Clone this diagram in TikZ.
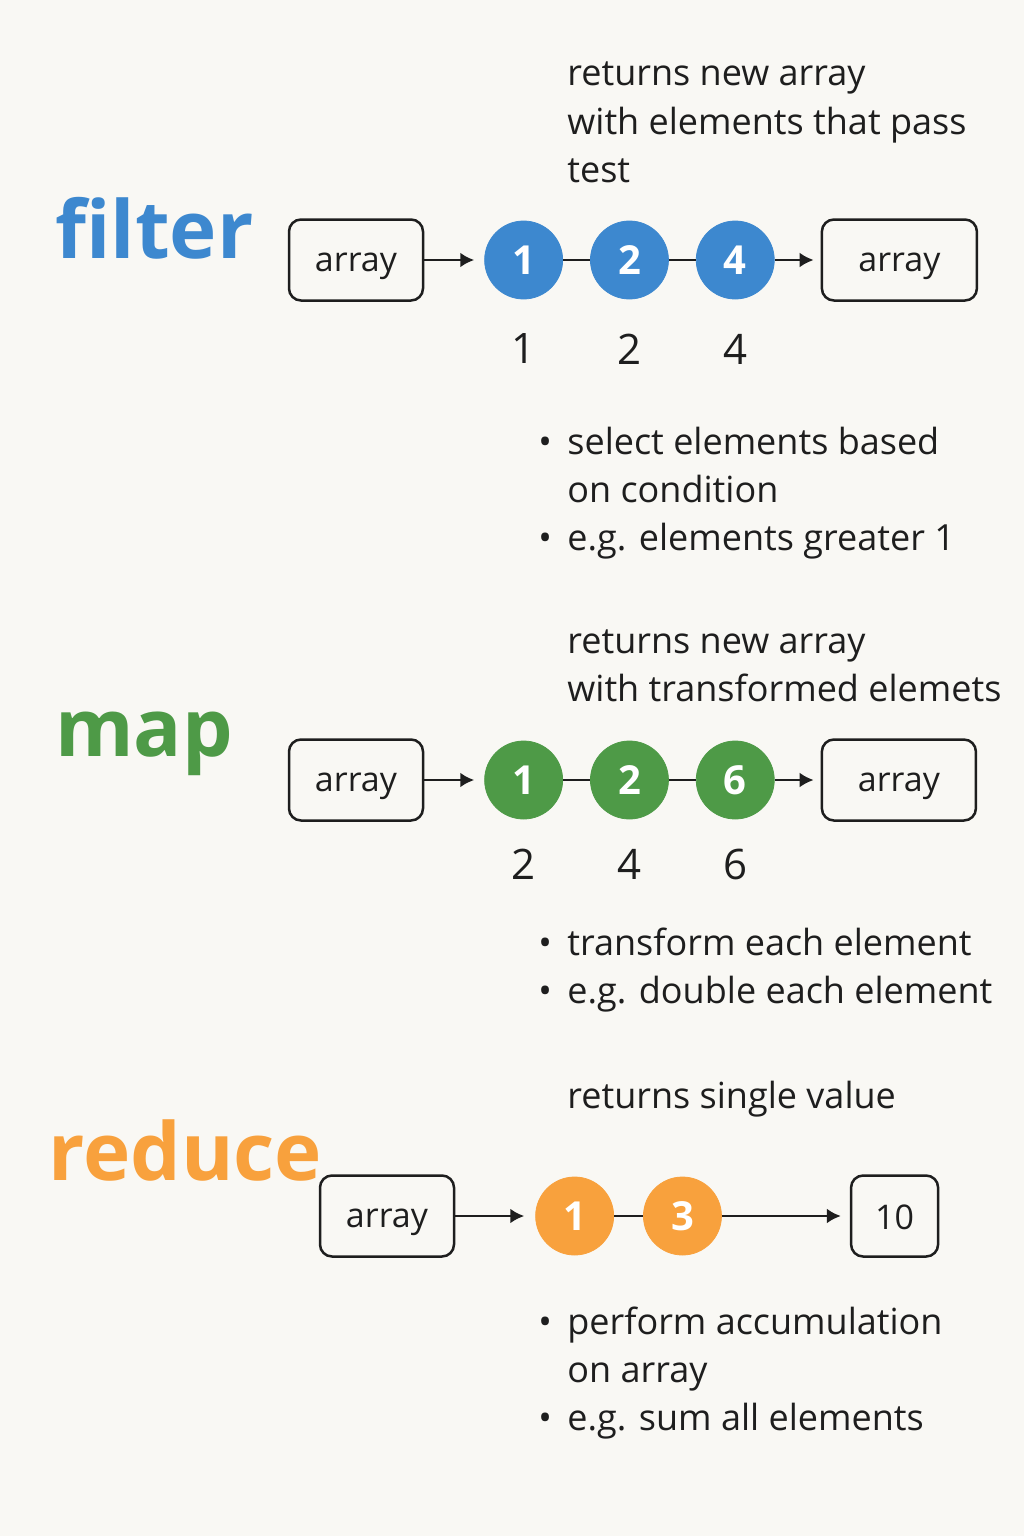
\documentclass[tikz,border=0pt]{standalone}
\usepackage{fontspec}
\setmainfont{Open Sans}
\usetikzlibrary{shapes,arrows,arrows.meta}
\usetikzlibrary{positioning}
\definecolor{fblue}{HTML}{3D88CF}
\definecolor{mgreen}{HTML}{4E9A47}
\definecolor{rorange}{HTML}{F8A13D}
\definecolor{paper}{HTML}{F9F8F4}
\definecolor{ink}{HTML}{1E1E1E}
\tikzstyle{block} = [rectangle, draw=ink, rounded corners=6pt, line width=1.25pt, minimum width=67pt, minimum height=40.5pt, inner sep=0pt, text=ink, text height=11pt, text depth=0pt, font=\fontsize{17}{22}\selectfont]
\tikzstyle{elem} = [circle, minimum size=39pt, inner sep=0pt, text=white, font=\fontsize{20}{24}\selectfont\bfseries]
\tikzstyle{title} = [anchor=base west, inner sep=0pt, font=\fontsize{40}{48}\selectfont\bfseries]
\tikzstyle{note} = [anchor=base west, align=left, inner sep=0pt, text=ink, font=\fontsize{18}{24}\selectfont]
\tikzstyle{val} = [text=ink, font=\fontsize{21}{24}\selectfont]
\tikzstyle{link} = [draw=ink, line width=1.4pt]
\tikzstyle{flow} = [link, -{Latex[length=7pt, width=7.5pt]}]
\newcommand{\bul}{\makebox[14.5pt][l]{\textbullet}}
\newcommand{\hang}{\hspace*{14.5pt}}

\begin{document}
\begin{tikzpicture}[x=0.5pt, y=-0.5pt]
   \fill[paper] (0,0) rectangle (1024,1536);

   % filter
   \node [title, text=fblue] (ft) at (55,258) {filter};
   \node [note] (fn) at (567,182) {returns new array\\with elements that pass\\test};
   \node [block] (fa) at (356,260) {array};
   \node [elem, fill=fblue, draw=fblue, right = 30pt of fa] (f1) {1};
   \node [elem, fill=fblue, draw=fblue, right = 13.5pt of f1] (f2) {2};
   \node [elem, fill=fblue, draw=fblue, right = 13.5pt of f2] (f4) {4};
   \node [block, minimum width=77.5pt, right = 23pt of f4] (fb) {array};
   \draw [flow, shorten >=5pt] (fa) -- (f1);
   \draw [link] (f1) -- (f2);
   \draw [link] (f2) -- (f4);
   \draw [flow, shorten >=3.5pt] (f4) -- (fb);
   \node [val] (fv1) at (f1 |- 0,349) {1};
   \node [val] (fv2) at (f2 |- 0,349) {2};
   \node [val] (fv4) at (f4 |- 0,349) {4};
   \node [note] (fl) at (538,550) {\bul select elements based\\\hang on condition\\\bul e.g. elements greater 1};

   % map
   \node [title, text=mgreen] (mt) at (55,756) {map};
   \node [note] (mn) at (567,701) {returns new array\\with transformed elemets};
   \node [block] (ma) at (356,780) {array};
   \node [elem, fill=mgreen, draw=mgreen, right = 30pt of ma] (m1) {1};
   \node [elem, fill=mgreen, draw=mgreen, right = 13.5pt of m1] (m2) {2};
   \node [elem, fill=mgreen, draw=mgreen, right = 13.5pt of m2] (m6) {6};
   \node [block, minimum width=77pt, right = 23pt of m6] (mb) {array};
   \draw [flow, shorten >=5pt] (ma) -- (m1);
   \draw [link] (m1) -- (m2);
   \draw [link] (m2) -- (m6);
   \draw [flow, shorten >=3.5pt] (m6) -- (mb);
   \node [val] (mv2) at (m1 |- 0,864) {2};
   \node [val] (mv4) at (m2 |- 0,864) {4};
   \node [val] (mv6) at (m6 |- 0,864) {6};
   \node [note] (ml) at (538,1003) {\bul transform each element\\\bul e.g. double each element};

   % reduce
   \node [title, text=rorange] (rt) at (48,1180) {reduce};
   \node [note] (rn) at (567,1108) {returns single value};
   \node [block] (ra) at (387,1216) {array};
   \node [elem, fill=rorange, draw=rorange, right = 40pt of ra] (r1) {1};
   \node [elem, fill=rorange, draw=rorange, right = 14.5pt of r1] (r3) {3};
   \node [block, minimum width=43.5pt, text height=13pt, right = 64pt of r3] (rb) {10};
   \draw [flow, shorten >=5.5pt] (ra) -- (r1);
   \draw [link] (r1) -- (r3);
   \draw [flow, shorten >=4.5pt] (r3) -- (rb);
   \node [note] (rl) at (538,1430) {\bul perform accumulation\\\hang on array\\\bul e.g. sum all elements};
\end{tikzpicture}
\end{document}
